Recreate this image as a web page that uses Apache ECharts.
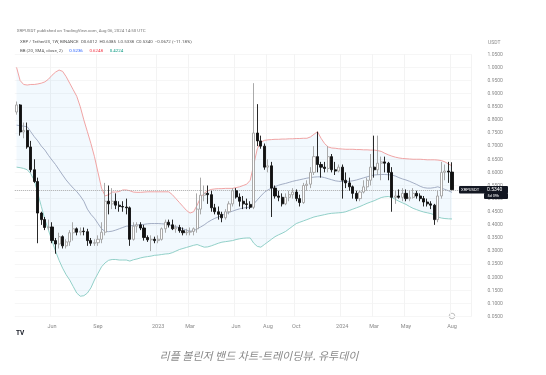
<!DOCTYPE html>
<html><head><meta charset="utf-8">
<script src="https://cdn.jsdelivr.net/npm/echarts/dist/echarts.min.js"></script>
<style>html,body{margin:0;padding:0;background:#fff}#c{width:546px;height:375px}</style>
</head><body><div id="c"></div>
<script>
// Weekly bars (week start dates)
const weeks = [
'2022-03-28','2022-04-04','2022-04-11','2022-04-18','2022-04-25','2022-05-02','2022-05-09','2022-05-16','2022-05-23','2022-05-30',
'2022-06-06','2022-06-13','2022-06-20','2022-06-27','2022-07-04','2022-07-11','2022-07-18','2022-07-25','2022-08-01','2022-08-08',
'2022-08-15','2022-08-22','2022-08-29','2022-09-05','2022-09-12','2022-09-19','2022-09-26','2022-10-03','2022-10-10','2022-10-17',
'2022-10-24','2022-10-31','2022-11-07','2022-11-14','2022-11-21','2022-11-28','2022-12-05','2022-12-12','2022-12-19','2022-12-26',
'2023-01-02','2023-01-09','2023-01-16','2023-01-23','2023-01-30','2023-02-06','2023-02-13','2023-02-20','2023-02-27','2023-03-06',
'2023-03-13','2023-03-20','2023-03-27','2023-04-03','2023-04-10','2023-04-17','2023-04-24','2023-05-01','2023-05-08','2023-05-15',
'2023-05-22','2023-05-29','2023-06-05','2023-06-12','2023-06-19','2023-06-26','2023-07-03','2023-07-10','2023-07-17','2023-07-24',
'2023-07-31','2023-08-07','2023-08-14','2023-08-21','2023-08-28','2023-09-04','2023-09-11','2023-09-18','2023-09-25','2023-10-02',
'2023-10-09','2023-10-16','2023-10-23','2023-10-30','2023-11-06','2023-11-13','2023-11-20','2023-11-27','2023-12-04','2023-12-11',
'2023-12-18','2023-12-25','2024-01-01','2024-01-08','2024-01-15','2024-01-22','2024-01-29','2024-02-05','2024-02-12','2024-02-19',
'2024-02-26','2024-03-04','2024-03-11','2024-03-18','2024-03-25','2024-04-01','2024-04-08','2024-04-15','2024-04-22','2024-04-29',
'2024-05-06','2024-05-13','2024-05-20','2024-05-27','2024-06-03','2024-06-10','2024-06-17','2024-06-24','2024-07-01','2024-07-08',
'2024-07-15','2024-07-22','2024-07-29','2024-08-05'];

const open = [
0.83,0.857,0.754,0.76,0.697,0.61,0.565,0.445,0.42,0.39,
0.392,0.34,0.327,0.355,0.32,0.335,0.37,0.385,0.372,0.376,
0.374,0.34,0.33,0.332,0.345,0.372,0.49,0.48,0.49,0.475,
0.47,0.468,0.465,0.345,0.395,0.40,0.388,0.352,0.343,0.345,
0.34,0.345,0.385,0.41,0.40,0.385,0.39,0.378,0.37,0.372,
0.375,0.385,0.46,0.513,0.52,0.515,0.465,0.45,0.44,0.427,
0.45,0.48,0.53,0.506,0.49,0.48,0.478,0.467,0.75,0.72,
0.70,0.62,0.625,0.54,0.51,0.505,0.48,0.505,0.515,0.525,
0.50,0.485,0.55,0.555,0.60,0.66,0.63,0.62,0.615,0.66,
0.61,0.605,0.62,0.57,0.56,0.545,0.52,0.50,0.525,0.545,
0.57,0.62,0.61,0.635,0.64,0.635,0.60,0.505,0.51,0.505,
0.52,0.50,0.505,0.52,0.51,0.50,0.487,0.48,0.475,0.42,
0.51,0.60,0.605,0.6012];
const high = [
0.87,0.86,0.79,0.79,0.72,0.65,0.58,0.45,0.43,0.42,
0.41,0.35,0.37,0.36,0.345,0.38,0.41,0.39,0.39,0.39,
0.385,0.35,0.345,0.36,0.41,0.56,0.55,0.54,0.52,0.49,
0.49,0.50,0.47,0.41,0.41,0.41,0.40,0.36,0.36,0.355,
0.36,0.39,0.42,0.42,0.42,0.40,0.40,0.39,0.385,0.39,
0.39,0.52,0.58,0.55,0.55,0.53,0.48,0.47,0.45,0.46,
0.49,0.54,0.54,0.52,0.51,0.50,0.49,0.94,0.86,0.74,
0.71,0.65,0.64,0.55,0.53,0.52,0.52,0.53,0.54,0.535,
0.515,0.56,0.57,0.62,0.70,0.755,0.64,0.64,0.70,0.67,
0.64,0.63,0.63,0.60,0.58,0.55,0.53,0.53,0.57,0.58,
0.67,0.74,0.74,0.66,0.66,0.64,0.62,0.53,0.535,0.54,
0.535,0.53,0.54,0.53,0.52,0.51,0.50,0.49,0.48,0.53,
0.64,0.63,0.64,0.6385];
const low = [
0.82,0.74,0.73,0.69,0.60,0.56,0.33,0.40,0.38,0.38,
0.33,0.29,0.31,0.31,0.31,0.32,0.34,0.36,0.36,0.36,
0.32,0.32,0.32,0.32,0.33,0.36,0.44,0.46,0.46,0.45,
0.45,0.44,0.32,0.34,0.37,0.38,0.34,0.335,0.30,0.33,
0.33,0.34,0.37,0.39,0.38,0.37,0.37,0.36,0.36,0.36,
0.36,0.37,0.44,0.49,0.48,0.45,0.44,0.42,0.41,0.42,
0.44,0.47,0.50,0.47,0.46,0.46,0.46,0.46,0.70,0.69,
0.61,0.60,0.43,0.50,0.49,0.47,0.475,0.49,0.50,0.49,
0.47,0.48,0.53,0.54,0.59,0.60,0.58,0.60,0.60,0.60,
0.59,0.60,0.50,0.54,0.53,0.50,0.49,0.49,0.52,0.53,
0.55,0.58,0.59,0.57,0.60,0.57,0.45,0.48,0.50,0.49,
0.49,0.49,0.50,0.50,0.49,0.47,0.47,0.46,0.40,0.41,
0.50,0.57,0.56,0.5338];
const close = [
0.857,0.754,0.76,0.697,0.61,0.565,0.445,0.42,0.39,0.392,
0.34,0.327,0.355,0.32,0.335,0.37,0.385,0.372,0.376,0.374,
0.34,0.33,0.332,0.345,0.372,0.49,0.48,0.49,0.475,0.47,
0.468,0.465,0.345,0.395,0.40,0.388,0.352,0.343,0.345,0.34,
0.345,0.385,0.41,0.40,0.385,0.39,0.378,0.37,0.372,0.375,
0.385,0.46,0.513,0.52,0.515,0.465,0.45,0.44,0.427,0.45,
0.48,0.53,0.506,0.49,0.48,0.478,0.467,0.75,0.72,0.70,
0.62,0.625,0.54,0.51,0.505,0.48,0.505,0.515,0.525,0.50,
0.485,0.55,0.555,0.60,0.66,0.63,0.62,0.615,0.66,0.61,
0.605,0.62,0.57,0.56,0.545,0.52,0.50,0.525,0.545,0.57,
0.62,0.61,0.635,0.64,0.635,0.60,0.505,0.51,0.505,0.52,
0.50,0.505,0.52,0.51,0.50,0.487,0.48,0.475,0.42,0.51,
0.60,0.605,0.6012,0.534];

// Bollinger Bands (20, SMA, close, 2)
const bbUpper = [
1.00,0.95,0.935,0.933,0.935,0.935,0.937,0.94,0.945,0.955,
0.97,0.982,0.99,0.985,0.965,0.94,0.915,0.89,0.85,0.80,
0.755,0.71,0.66,0.60,0.54,0.51,0.515,0.525,0.525,0.527,
0.533,0.533,0.53,0.525,0.524,0.524,0.525,0.526,0.526,0.526,
0.526,0.526,0.526,0.526,0.515,0.50,0.485,0.47,0.455,0.445,
0.45,0.475,0.505,0.52,0.53,0.535,0.537,0.538,0.538,0.539,
0.539,0.539,0.542,0.545,0.55,0.555,0.57,0.63,0.69,0.715,
0.722,0.724,0.725,0.726,0.726,0.727,0.727,0.728,0.728,0.729,
0.729,0.73,0.73,0.735,0.745,0.755,0.73,0.71,0.697,0.693,
0.692,0.69,0.689,0.688,0.688,0.688,0.687,0.687,0.686,0.686,
0.685,0.685,0.683,0.68,0.673,0.667,0.662,0.658,0.655,0.653,
0.652,0.651,0.65,0.65,0.65,0.649,0.648,0.648,0.648,0.647,
0.645,0.64,0.632,0.6248];
const bbBasis = [
0.78,0.778,0.776,0.774,0.755,0.736,0.72,0.70,0.685,0.665,
0.647,0.63,0.61,0.59,0.571,0.555,0.54,0.527,0.51,0.49,
0.46,0.44,0.425,0.405,0.385,0.375,0.374,0.376,0.38,0.385,
0.39,0.395,0.396,0.398,0.40,0.40,0.402,0.404,0.405,0.405,
0.405,0.404,0.403,0.40,0.397,0.393,0.39,0.385,0.38,0.376,
0.377,0.385,0.392,0.40,0.41,0.418,0.425,0.43,0.436,0.442,
0.448,0.452,0.457,0.461,0.464,0.466,0.468,0.48,0.495,0.51,
0.524,0.533,0.54,0.546,0.551,0.555,0.558,0.562,0.566,0.569,
0.572,0.575,0.578,0.58,0.582,0.583,0.583,0.58,0.576,0.572,
0.568,0.566,0.565,0.565,0.566,0.568,0.571,0.575,0.579,0.583,
0.587,0.59,0.591,0.592,0.592,0.591,0.59,0.586,0.58,0.575,
0.571,0.566,0.56,0.554,0.547,0.542,0.54,0.54,0.542,0.545,
0.54,0.535,0.53,0.5236];
const bbLower = [
0.62,0.618,0.615,0.61,0.595,0.57,0.52,0.47,0.42,0.38,
0.34,0.30,0.265,0.235,0.21,0.19,0.165,0.14,0.128,0.13,
0.14,0.16,0.19,0.215,0.24,0.255,0.265,0.268,0.268,0.266,
0.266,0.266,0.262,0.267,0.27,0.274,0.277,0.279,0.281,0.284,
0.285,0.287,0.289,0.29,0.294,0.30,0.306,0.31,0.314,0.318,
0.322,0.325,0.32,0.315,0.316,0.32,0.325,0.33,0.334,0.336,
0.338,0.34,0.344,0.347,0.349,0.35,0.35,0.33,0.318,0.315,
0.325,0.335,0.345,0.355,0.362,0.368,0.375,0.385,0.395,0.405,
0.41,0.415,0.42,0.425,0.43,0.433,0.436,0.439,0.442,0.444,
0.445,0.446,0.447,0.45,0.455,0.46,0.465,0.47,0.476,0.482,
0.487,0.492,0.498,0.504,0.507,0.508,0.505,0.497,0.49,0.484,
0.478,0.47,0.463,0.458,0.453,0.449,0.446,0.443,0.438,0.43,
0.426,0.424,0.423,0.4224];

// Axis tick labels
const xTickIndex = [10,23,40,49,62,71,79,92,101,110,123];
const xTickText  = ['Jun','Sep','2023','Mar','Jun','Aug','Oct','2024','Mar','May','Aug'];
const lastPrice = 0.534;
const emptyRight = ['p1','p2','p3','p4','p5'];

const xData = weeks.concat(emptyRight);
const candles = weeks.map((d,i)=>[open[i],close[i],low[i],high[i]]);
const bandWidth = bbUpper.map((u,i)=>+(u - bbLower[i]).toFixed(4));

const chart = echarts.init(document.getElementById('c'), null, {renderer:'canvas'});
const F = 'Roboto, "Noto Sans", sans-serif';
chart.setOption({
  animation:false,
  backgroundColor:'#ffffff',
  grid:{left:14.8, right:74.5, top:54.3, bottom:58.3},
  xAxis:{
    type:'category', data:xData, boundaryGap:true,
    axisLine:{show:false}, axisTick:{show:false},
    axisLabel:{
      interval:(idx)=>xTickIndex.indexOf(idx)>=0,
      formatter:(v,idx)=>{const k=xTickIndex.indexOf(idx);return k>=0?xTickText[k]:'';},
      fontSize:5.5, color:'#8a8a8a', margin:7, fontFamily:F
    },
    splitLine:{show:true, interval:(idx)=>xTickIndex.indexOf(idx)>=0, lineStyle:{color:'#f3f3f3', width:1}}
  },
  yAxis:{
    type:'value', position:'right', min:0.05, max:1.05, interval:0.05, scale:false,
    axisLine:{show:false}, axisTick:{show:false},
    axisLabel:{formatter:(v)=>v.toFixed(4), fontSize:5, color:'#8a8a8a', margin:16, fontFamily:F},
    splitLine:{show:true, lineStyle:{color:'#f6f6f6', width:1}}
  },
  series:[
    {type:'line', data:bbLower, stack:'bb', symbol:'none', silent:true, lineStyle:{opacity:0}, z:1},
    {type:'line', data:bandWidth, stack:'bb', symbol:'none', silent:true, lineStyle:{opacity:0},
     areaStyle:{color:'rgba(33,150,243,0.085)'}, z:1},
    {type:'line', data:bbUpper, symbol:'none', silent:true, lineStyle:{color:'#ef9a9a', width:0.9}, z:2},
    {type:'line', data:bbBasis, symbol:'none', silent:true, lineStyle:{color:'#9aa5bd', width:0.9}, z:2},
    {type:'line', data:bbLower, symbol:'none', silent:true, lineStyle:{color:'#86cbc2', width:0.9}, z:2},
    {type:'candlestick', data:candles, barWidth:2.6, z:5,
     itemStyle:{color:'#ffffff', color0:'#111111', borderColor:'#a0a0a0', borderColor0:'#111111', borderWidth:0.9},
     markLine:{symbol:['none','none'], silent:true, label:{show:false},
       lineStyle:{color:'#a8a8a8', type:'dotted', width:1}, data:[{yAxis:lastPrice}]}}
  ],
  graphic:[
    {type:'text', left:16.7, top:28.5, style:{text:'XRPUSDT published on TradingView.com, Aug 06, 2024 14:50 UTC', fontSize:4.4, fill:'#777', fontFamily:F}},
    {type:'text', left:20, top:39.5, style:{text:'XRP / TetherUS, 1W, BINANCE  O0.6012  H0.6385  L0.5338  C0.5340  \u22120.0672 (\u221211.18%)', fontSize:4.4, fill:'#555', fontFamily:F}},
    {type:'text', left:20, top:45, style:{rich:{g:{fill:'#555',fontSize:4.4,fontFamily:F},b:{fill:'#2962ff',fontSize:4.4,fontFamily:F},r:{fill:'#f23645',fontSize:4.4,fontFamily:F},t:{fill:'#089981',fontSize:4.4,fontFamily:F}},
      text:'{g|BB (20, SMA, close, 2)}  {b|0.5236}  {r|0.6248}  {t|0.4224}'}},
    {type:'text', left:488, top:40, style:{text:'USDT', fontSize:5, fill:'#8a8a8a', fontFamily:F}},
    {type:'rect', shape:{x:459, y:186, width:49, height:7.5, r:1}, style:{fill:'#131722'}, z:20},
    {type:'rect', shape:{x:484, y:193, width:24, height:6, r:1}, style:{fill:'#131722'}, z:20},
    {type:'text', x:461, y:189.8, style:{text:'XRPUSDT', fontSize:4.2, fill:'#ffffff', fontFamily:F, verticalAlign:'middle'}, z:21},
    {type:'text', x:487, y:189.8, style:{text:'0.5340', fontSize:5, fill:'#ffffff', fontFamily:F, verticalAlign:'middle'}, z:21},
    {type:'text', x:487.5, y:196.2, style:{text:'5d 09h', fontSize:3.8, fill:'#ffffff', fontFamily:F, verticalAlign:'middle'}, z:21},
    {type:'circle', shape:{cx:452, cy:316, r:2.8}, style:{fill:'#fff', stroke:'#b0b0b0', lineWidth:0.8}},
    {type:'text', left:16, top:330, style:{text:'TV', fontSize:6.5, fontWeight:'bold', fill:'#131722', fontFamily:F}},
    {type:'text', x:259, y:355.5, style:{text:'리플 볼린저 밴드 차트-트레이딩뷰. 유투데이', fontSize:11, fontStyle:'italic', fill:'#8a8a8a',
      fontFamily:'"Noto Sans CJK KR", sans-serif', align:'center', verticalAlign:'middle'}}
  ]
});
</script>
</body></html>
